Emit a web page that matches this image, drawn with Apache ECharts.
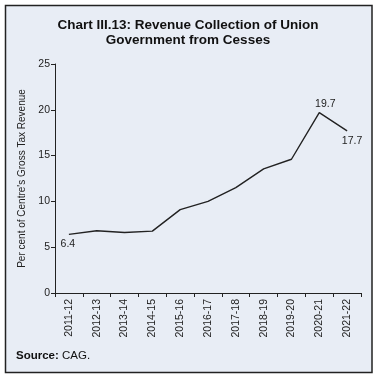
<!DOCTYPE html>
<html>
<head>
<meta charset="utf-8">
<script src="https://cdn.jsdelivr.net/npm/echarts@6/dist/echarts.min.js"></script>
<style>
html,body{margin:0;padding:0;background:#fff;}
#c{width:376px;height:378px;}
</style>
</head>
<body>
<div id="c"></div>
<script>
var categories = ['2011-12','2012-13','2013-14','2014-15','2015-16','2016-17','2017-18','2018-19','2019-20','2020-21','2021-22'];
var values = [6.4, 6.8, 6.6, 6.75, 9.1, 10.0, 11.5, 13.55, 14.6, 19.7, 17.7];
var yTicks = [0, 5, 10, 15, 20, 25];

var chart = echarts.init(document.getElementById('c'), null, {renderer:'canvas'});
var font = 'Liberation Sans, Arial, sans-serif';
var data = values.map(function(v, i){
  var d = {value: v};
  if (i === 0) d.label = {show:true, position:'bottom', distance:4, offset:[-1,0]};
  else if (i === 9) d.label = {show:true, position:'top', distance:3, offset:[6,0]};
  else if (i === 10) d.label = {show:true, position:'bottom', distance:5, offset:[5,0]};
  return d;
});
chart.setOption({
  backgroundColor: '#fff',
  animation: false,
  graphic: [
    {type:'rect', z:-10, shape:{x:5.5, y:5.5, width:366.5, height:367}, style:{fill:'#E8EDF5', stroke:'#222', lineWidth:1.5}},
    {type:'text', left:16, top:350, style:{text:'{b|Source:} CAG.', fill:'#111', font:'11.5px '+font, rich:{b:{fontWeight:'bold', fontSize:11.5, fontFamily:font, fill:'#111'}}}}
  ],
  title: {
    text: 'Chart III.13: Revenue Collection of Union\nGovernment from Cesses',
    left: 'center', top: 13,
    textStyle: {fontFamily: font, fontSize: 13.5, fontWeight: 'bold', color: '#111', lineHeight: 15}
  },
  grid: {left: 55, right: 15, top: 64, bottom: 85, containLabel: false},
  xAxis: {
    type: 'category', data: categories, boundaryGap: true,
    axisLine: {lineStyle: {color: '#222', width: 1}},
    axisTick: {show: true, alignWithLabel: false, length: 4, lineStyle: {color: '#222'}},
    axisLabel: {rotate: 90, fontFamily: font, fontSize: 10.5, color: '#222', margin: 6, interval: 0}
  },
  yAxis: {
    type: 'value', min: 0, max: 25, interval: 5,
    name: "Per cent of Centre's Gross Tax Revenue",
    nameLocation: 'middle', nameGap: 22, nameRotate: 90,
    nameTextStyle: {fontFamily: font, fontSize: 10, color: '#222'},
    axisLine: {show: true, lineStyle: {color: '#222', width: 1}},
    axisTick: {show: true, length: 4, lineStyle: {color: '#222'}},
    splitLine: {show: false},
    axisLabel: {fontFamily: font, fontSize: 10.5, color: '#222', margin: 5}
  },
  series: [{
    type: 'line', data: data, symbol: 'circle', symbolSize: 0.1, showSymbol: true,
    itemStyle: {color: '#222'},
    lineStyle: {color: '#222', width: 1.4},
    label: {show: false, fontFamily: font, fontSize: 10.5, color: '#222', formatter: function(p){return p.value.toFixed(1);}}
  }]
});
</script>
</body>
</html>
